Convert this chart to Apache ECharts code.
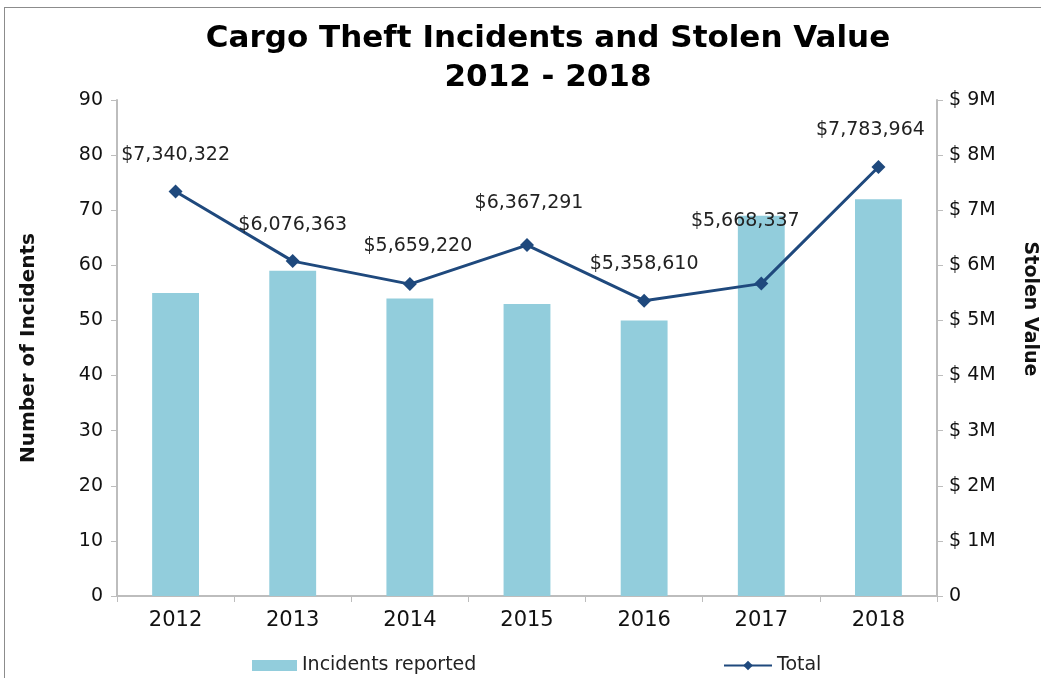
<!DOCTYPE html>
<html>
<head>
<meta charset="utf-8">
<script src="https://cdn.jsdelivr.net/npm/echarts@6/dist/echarts.min.js"></script>
<style>
  html, body { margin: 0; padding: 0; background: #fff; }
  #frame { position: absolute; left: 4px; top: 7px; width: 1037px; height: 671px; border: 1px solid #8c8c8c; border-right: none; border-bottom: none; box-sizing: border-box; }
  #main { position: absolute; left: 0; top: 0; width: 1043px; height: 680px; }
</style>
</head>
<body>
<div id="frame"></div>
<div id="main"></div>
<script>
// data
var years = ['2012', '2013', '2014', '2015', '2016', '2017', '2018'];
var incidents = [55, 59, 54, 53, 50, 69, 72];
var stolenValue = [7340322, 6076363, 5659220, 6367291, 5358610, 5668337, 7783964];

var font = 'DejaVu Sans';

function money(v) {
    return '$' + v.toString().replace(/\B(?=(\d{3})+(?!\d))/g, ',');
}

// label nudges, the way excel placed them
var labelShift = { 2: [8, -2], 3: [2, -6], 5: [-16, -26], 6: [-8, 0] };

var lineData = stolenValue.map(function (v, i) {
    var d = { value: v };
    if (labelShift[i]) d.label = { offset: labelShift[i] };
    return d;
});

var myChart = echarts.init(document.getElementById('main'));

var option = {
    backgroundColor: 'transparent',
    animation: false,
    title: {
        text: 'Cargo Theft Incidents and Stolen Value\n2012 - 2018',
        left: 543,
        textAlign: 'center',
        top: 14,
        textStyle: {
            fontFamily: font,
            fontSize: 31,
            fontWeight: 'bold',
            color: '#000',
            lineHeight: 39
        }
    },
    legend: [{
        data: [{ name: 'Incidents reported', icon: 'rect' }],
        left: 247,
        top: 651,
        itemWidth: 45,
        itemHeight: 11,
        itemGap: 4,
        textStyle: { fontFamily: font, fontSize: 19, color: '#222' }
    }, {
        data: ['Total'],
        left: 718,
        top: 651,
        itemWidth: 48,
        itemHeight: 12,
        itemGap: 4,
        textStyle: { fontFamily: font, fontSize: 19, color: '#222' }
    }],
    grid: {
        left: 117,
        right: 106,
        top: 100,
        bottom: 84,
        outerBoundsMode: 'none'
    },
    xAxis: {
        type: 'category',
        data: years,
        axisLine: { lineStyle: { color: '#bdbdbd', width: 2 } },
        axisTick: { show: true, length: 6, lineStyle: { color: '#bdbdbd' } },
        axisLabel: { fontFamily: font, fontSize: 21, color: '#111', margin: 14 }
    },
    yAxis: [{
        type: 'value',
        min: 0,
        max: 90,
        interval: 10,
        name: 'Number of Incidents',
        nameLocation: 'middle',
        nameGap: 78,
        nameRotate: 90,
        nameTextStyle: { fontFamily: font, fontSize: 20, fontWeight: 'bold', color: '#111' },
        axisLine: { show: true, lineStyle: { color: '#bdbdbd', width: 2 } },
        axisTick: { show: true, length: 6, lineStyle: { color: '#bdbdbd' } },
        axisLabel: { fontFamily: font, fontSize: 19, color: '#111', margin: 14 },
        splitLine: { show: false }
    }, {
        type: 'value',
        min: 0,
        max: 9000000,
        interval: 1000000,
        name: 'Stolen Value',
        nameLocation: 'middle',
        nameGap: 83,
        nameRotate: -90,
        nameTextStyle: {
            fontFamily: font, fontSize: 19, fontWeight: 'bold', color: '#111',
            padding: [0, 78, 0, 0]
        },
        axisLine: { show: true, lineStyle: { color: '#bdbdbd', width: 2 } },
        axisTick: { show: true, length: 6, lineStyle: { color: '#bdbdbd' } },
        axisLabel: {
            fontFamily: font, fontSize: 19, color: '#111', margin: 12,
            formatter: function (v) { return v === 0 ? '0' : '$ ' + (v / 1000000) + 'M'; }
        },
        splitLine: { show: false }
    }],
    series: [{
        name: 'Incidents reported',
        type: 'bar',
        yAxisIndex: 0,
        data: incidents,
        barWidth: '40%',
        itemStyle: { color: '#92CDDC' }
    }, {
        name: 'Total',
        type: 'line',
        yAxisIndex: 1,
        data: lineData,
        symbol: 'diamond',
        symbolSize: 14,
        lineStyle: { color: '#1F497D', width: 3 },
        itemStyle: { color: '#1F497D' },
        label: {
            show: true,
            position: 'top',
            distance: 20,
            fontFamily: font,
            fontSize: 19,
            color: '#222',
            formatter: function (p) { return money(p.value); }
        }
    }]
};

myChart.setOption(option);
</script>
</body>
</html>
